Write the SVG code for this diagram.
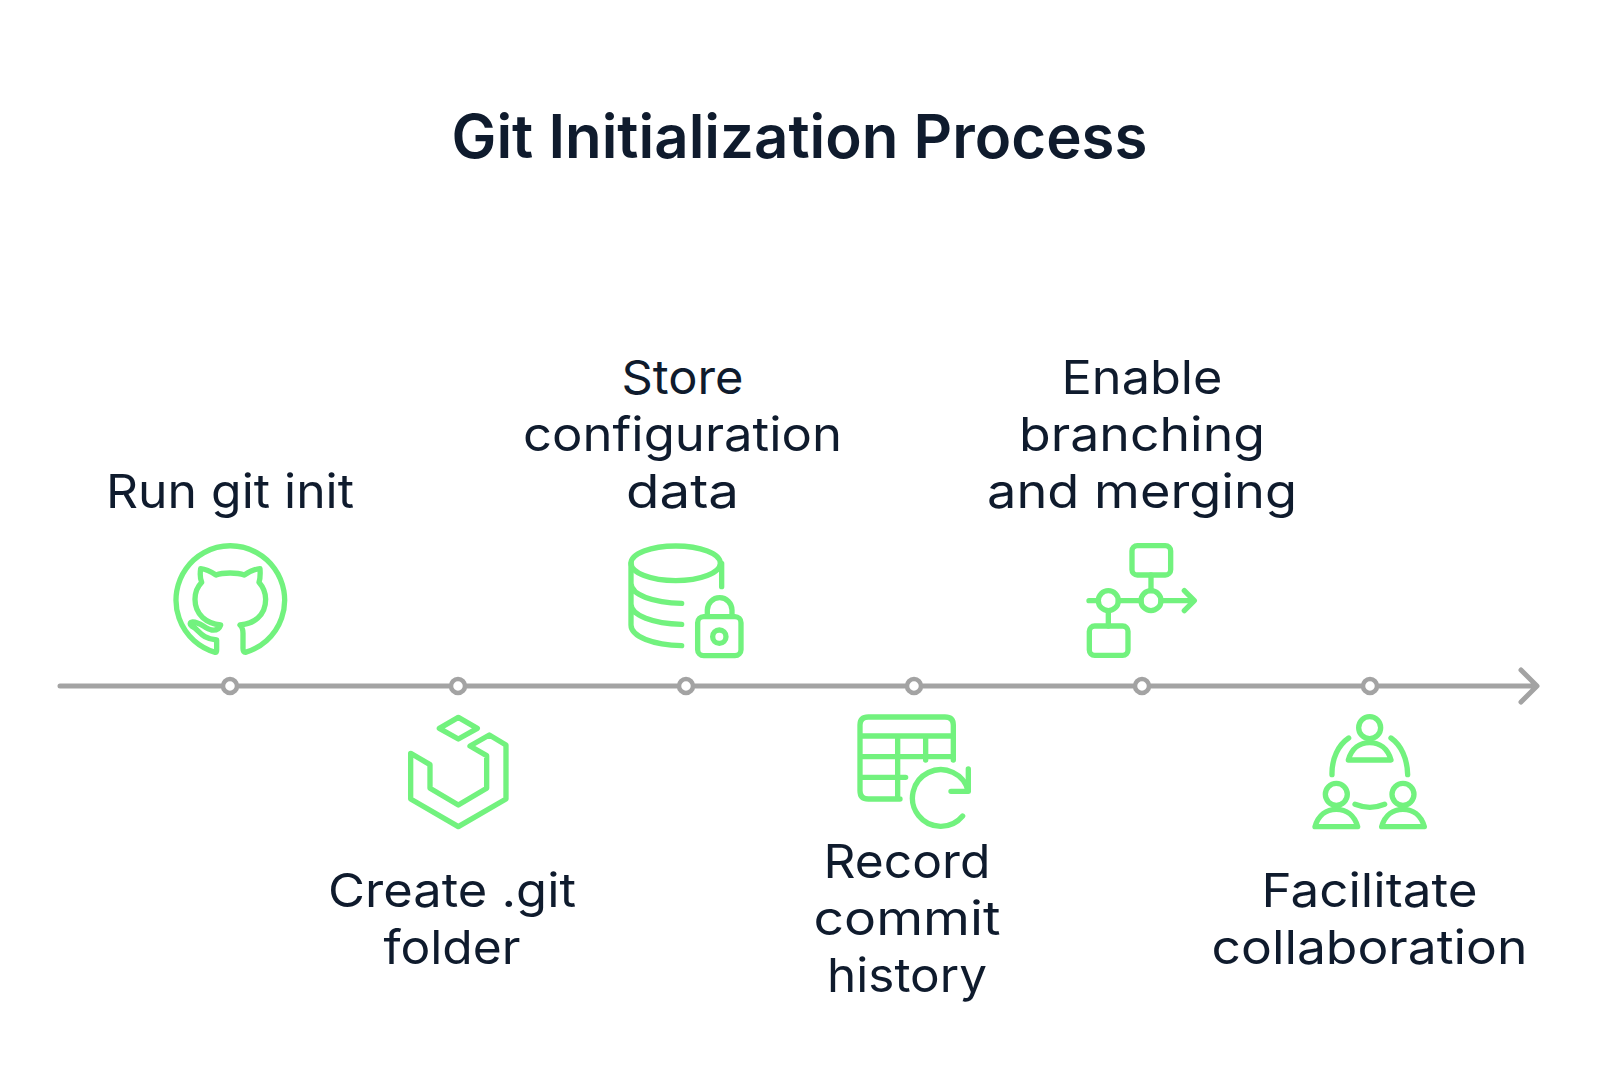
<svg xmlns="http://www.w3.org/2000/svg" width="1600" height="1088" viewBox="0 0 1600 1088">
<style>
.i{fill:none;stroke:#72f27e;stroke-width:16;stroke-linecap:round;stroke-linejoin:round}
.t{font-family:"Inter","Liberation Sans",sans-serif;font-size:47px;font-weight:400;fill:#0f1b2d;text-anchor:middle}
.h{font-size:60px;font-weight:600}
.d{fill:#fff;stroke:#a3a3a3;stroke-width:4.5}
</style>
<rect width="1600" height="1088" fill="#fff"/>
<text id="title" class="t h" x="799.5" y="158" textLength="696" lengthAdjust="spacingAndGlyphs">Git Initialization Process</text>
<g id="connectors" fill="none" stroke="#a3a3a3" stroke-width="5" stroke-linecap="round" stroke-linejoin="round">
<path d="M60 686H1536M1521 670L1537 686L1521 702"/>
</g>
<g id="node1">
<circle class="d" cx="230" cy="686" r="7"/>
<g transform="translate(150 530) scale(.3333)"><path class="i" d="M196 367A163 163 0 1 1 286 367C280 367 279 362 279 355V310C279 300 276 290 270 285C310 282 347 258 347 208C347 185 340 172 327 157C331 145 331 130 330 116C315 117 298 125 283 135C262 127 218 127 198 135C183 125 165 117 152 116C150 130 150 145 155 157C140 172 135 187 135 208C135 255 170 280 212 285C208 296 200 302 185 300C165 297 150 275 128 276C120 277 118 283 125 288C150 300 150 325 200 330V360C200 365 198 367 196 367Z"/></g>
<text class="t" x="230" y="507.5" textLength="248" lengthAdjust="spacingAndGlyphs">Run git init</text>
</g>
<g id="node2">
<circle class="d" cx="458" cy="686" r="7"/>
<g transform="translate(380 660) scale(.3333)"><path class="i" d="M235 172L292 205L235 237L178 205ZM92 280L150 314V385L235 435L320 385V287L270 258L328 225L378 255V417L235 500L92 417Z"/></g>
<text class="t" x="452" y="906.5" textLength="248" lengthAdjust="spacingAndGlyphs">Create .git</text>
<text class="t" x="452" y="963.5" textLength="137" lengthAdjust="spacingAndGlyphs">folder</text>
</g>
<g id="node3">
<circle class="d" cx="686" cy="686" r="7"/>
<g transform="translate(610 530) scale(.3333)"><ellipse class="i" cx="197" cy="100" rx="134" ry="52"/><path class="i" d="M63 100V285C63 320 130 345 215 347M63 160C63 195 130 218 215 220M63 222C63 257 130 281 215 283M335 100V170M292 258V240A37 37 0 0 1 366 240V258"/><rect class="i" x="263" y="260" width="130" height="117" rx="18"/><circle class="i" cx="328" cy="320" r="20"/></g>
<text class="t" x="682.5" y="393.5" textLength="122" lengthAdjust="spacingAndGlyphs">Store</text>
<text class="t" x="682.5" y="450.5" textLength="319" lengthAdjust="spacingAndGlyphs">configuration</text>
<text class="t" x="682.5" y="507.5" textLength="113" lengthAdjust="spacingAndGlyphs">data</text>
</g>
<g id="node4">
<circle class="d" cx="914" cy="686" r="7"/>
<g transform="translate(840 670) scale(.3333)"><path class="i" d="M180 387H85Q60 387 60 362V165Q60 141 85 141H315Q340 141 340 165V270M60 198H340M60 260H340M60 322H197M173 198V387M257 198V270M368 438A85 85 0 1 1 385 364M385 297V364H333"/></g>
<text class="t" x="907" y="877.5" textLength="167" lengthAdjust="spacingAndGlyphs">Record</text>
<text class="t" x="907" y="934.5" textLength="187" lengthAdjust="spacingAndGlyphs">commit</text>
<text class="t" x="907" y="991.5" textLength="160" lengthAdjust="spacingAndGlyphs">history</text>
</g>
<g id="node5">
<circle class="d" cx="1142" cy="686" r="7"/>
<g transform="translate(1070 530) scale(.3333)"><rect class="i" x="186" y="47" width="116" height="88" rx="16"/><rect class="i" x="58" y="288" width="116" height="88" rx="16"/><circle class="i" cx="243" cy="212" r="30"/><circle class="i" cx="115" cy="212" r="30"/><path class="i" d="M243 135V182M273 212H372M343 182L373 212L343 242M57 212H85M145 212H213M115 242V288"/></g>
<text class="t" x="1142" y="393.5" textLength="161" lengthAdjust="spacingAndGlyphs">Enable</text>
<text class="t" x="1142" y="450.5" textLength="246" lengthAdjust="spacingAndGlyphs">branching</text>
<text class="t" x="1142" y="507.5" textLength="310" lengthAdjust="spacingAndGlyphs">and merging</text>
</g>
<g id="node6">
<circle class="d" cx="1370" cy="686" r="7"/>
<g transform="translate(1290 670) scale(.3333)"><circle class="i" cx="239" cy="173" r="33"/><circle class="i" cx="139" cy="373" r="33"/><circle class="i" cx="339" cy="373" r="33"/><path class="i" d="M175 270C185 235 210 218 239 218C268 218 293 235 303 270ZM75 470C85 435 110 418 139 418C168 418 193 435 203 470ZM275 470C285 435 310 418 339 418C368 418 393 435 403 470ZM176 204C145 225 125 265 126 314M303 204C333 225 352 265 353 314M195 403C225 415 255 415 284 403"/></g>
<text class="t" x="1369.5" y="906.5" textLength="216" lengthAdjust="spacingAndGlyphs">Facilitate</text>
<text class="t" x="1369.5" y="963.5" textLength="316" lengthAdjust="spacingAndGlyphs">collaboration</text>
</g>
</svg>
